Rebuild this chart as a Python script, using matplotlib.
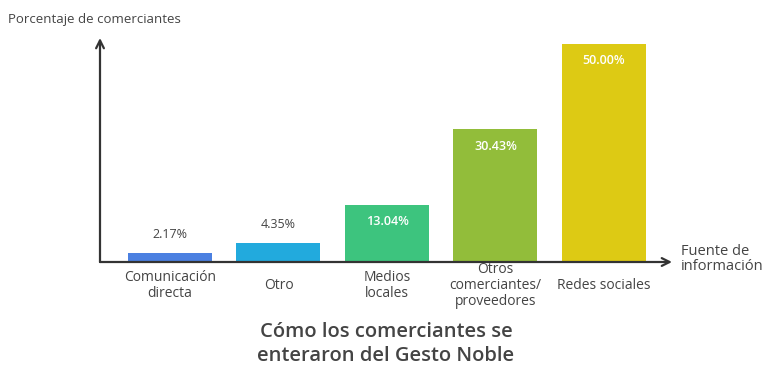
import matplotlib.pyplot as plt

# Data
categories = ['Comunicación\ndirecta', 'Otro', 'Medios\nlocales',
              'Otros\ncomerciantes/\nproveedores', 'Redes sociales']
values = [2.17, 4.35, 13.04, 30.43, 50.00]
colors = ['#4B80E1', '#22AADD', '#3DC47E', '#92BD3A', '#DDCA14']
inside = [False, False, True, True, True]

plt.rcParams['font.family'] = ['Open Sans', 'DejaVu Sans']
txt = '#444444'

fig = plt.figure(figsize=(7.72, 3.92), dpi=100)
W, H = 772, 392
# axes: left 100px, right 672px, baseline 262px, top 38px
ax = fig.add_axes([100 / W, (H - 262) / H, 572 / W, 224 / H])

x = range(len(values))
ax.bar(x, values, width=0.774, color=colors)
ax.set_xlim(-0.645, 4.627)
ax.set_ylim(0, 51.4)

for i, v in enumerate(values):
    if inside[i]:
        ax.annotate(f'{v:.2f}%', (i, v), xytext=(0, -12), textcoords='offset points',
                    ha='center', va='center', color='white', fontsize=9,
                    fontweight='semibold')
    else:
        ax.annotate(f'{v:.2f}%', (i, v), xytext=(0, 13), textcoords='offset points',
                    ha='center', va='center', color=txt, fontsize=9)
    ax.annotate(categories[i], (i, 0), xytext=(0, -17), textcoords='offset points',
                ha='center', va='center', color=txt, fontsize=10, linespacing=1.1)

for s in ax.spines.values():
    s.set_visible(False)
ax.set_xticks([])
ax.set_yticks([])

arrow = dict(arrowstyle='->', color='#333333', lw=1.6, mutation_scale=14,
             shrinkA=0, shrinkB=0)
ax.annotate('', xy=(0, 1), xytext=(0, 0), xycoords='axes fraction', arrowprops=arrow)
ax.annotate('', xy=(1, 0), xytext=(0, 0), xycoords='axes fraction', arrowprops=arrow)

fig.text(681 / W, 1 - 259 / H, 'Fuente de\ninformación', ha='left', va='center',
         color=txt, fontsize=10.5, linespacing=1.0)
fig.text(8 / W, 1 - 20 / H, 'Porcentaje de comerciantes', ha='left', va='center',
         color=txt, fontsize=9.5)
fig.text(386 / W, 1 - 344 / H, 'Cómo los comerciantes se\nenteraron del Gesto Noble',
         ha='center', va='center', color=txt, fontsize=14.5, fontweight='semibold',
         linespacing=1.3)

fig.savefig('out.png', dpi=100, facecolor='white')
